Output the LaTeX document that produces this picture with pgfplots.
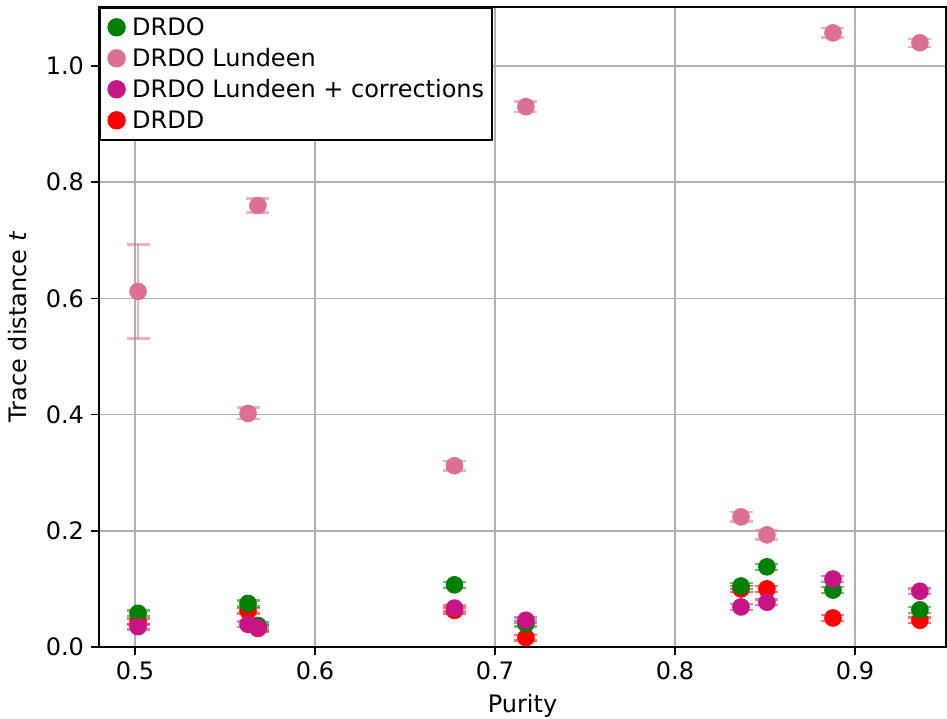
\documentclass[border=0pt]{standalone}
\usepackage{fontspec}
\setmainfont{DejaVu Sans}
\usepackage{pgfplots}
\pgfplotsset{compat=1.18}
\usepackage{pgfplotstable}
\usetikzlibrary{calc}
\definecolor{cgreen}{HTML}{008000}
\definecolor{cpink}{HTML}{DB7093}
\definecolor{cmag}{HTML}{C71585}
\definecolor{cred}{HTML}{FF0000}
\definecolor{cgrid}{HTML}{B0B0B0}

\pgfplotstableread{
x y e
0.5017 0.058 0.005
0.5628 0.075 0.005
0.5683 0.037 0.005
0.6775 0.107 0.005
0.7172 0.040 0.005
0.8367 0.105 0.005
0.8511 0.138 0.005
0.8878 0.098 0.005
0.9361 0.064 0.005
}\drdo
\pgfplotstableread{
x y e
0.5017 0.612 0.081
0.5628 0.402 0.010
0.5683 0.760 0.012
0.6775 0.312 0.008
0.7172 0.930 0.009
0.8367 0.224 0.008
0.8511 0.193 0.008
0.8878 1.057 0.008
0.9361 1.040 0.007
}\lundeen
\pgfplotstableread{
x y e
0.5017 0.035 0.005
0.5628 0.039 0.005
0.5683 0.033 0.005
0.6775 0.067 0.005
0.7172 0.046 0.005
0.8367 0.069 0.005
0.8511 0.077 0.005
0.8878 0.117 0.005
0.9361 0.096 0.005
}\lundeencorr
\pgfplotstableread{
x y e
0.5017 0.044 0.005
0.5628 0.0625 0.005
0.5683 0.032 0.005
0.6775 0.063 0.005
0.7172 0.016 0.005
0.8367 0.100 0.005
0.8511 0.100 0.005
0.8878 0.050 0.005
0.9361 0.046 0.005
}\drdd

\pgfplotsset{
  ser/.style={only marks, mark=*, mark size=4.2pt, color=#1,
    mark options={draw=#1, fill=#1},
    error bars/.cd, y dir=both, y explicit, error mark=|,
    error bar style={line width=1.4pt, color=#1, opacity=0.55},
    error mark options={line width=1.2pt, mark size=5.75pt, color=#1, opacity=0.55},
    /pgfplots/.cd},
}

\begin{document}
\begin{tikzpicture}
\begin{axis}[
  name=ax,
  scale only axis,
  width=423.5pt, height=320pt,
  xmin=0.48, xmax=0.9506, ymin=0, ymax=1.1016,
  xtick={0.5,0.6,0.7,0.8,0.9},
  ytick={0,0.2,0.4,0.6,0.8,1.0},
  grid=major,
  grid style={color=cgrid, line width=0.8pt},
  axis line style={line width=0.8pt},
  tick style={line width=0.8pt, black},
  tick align=outside,
  major tick length=4pt,
  tick pos=left,
  font=\fontsize{12}{14}\selectfont,
  ticklabel style={font=\fontsize{12}{14}\selectfont},
  /pgf/number format/assume math mode=true,
  xticklabel style={/pgf/number format/.cd, fixed, fixed zerofill, precision=1},
  yticklabel style={/pgf/number format/.cd, fixed, fixed zerofill, precision=1},
  xlabel={Purity},
  ylabel={Trace distance \textit{t}},
  every axis x label/.style={at={(axis description cs:0.5,-0.1016)}, anchor=base},
  every axis y label/.style={at={(axis description cs:-0.0850,0.5)}, anchor=base, rotate=90},
  legend cell align=left,
  legend image code/.code={\path (-4.2pt,0pt) (4.2pt,0pt); \draw[#1] plot coordinates {(0pt,0pt)};},
  legend style={at={(0,1)}, anchor=north west, draw=black, line width=0.8pt,
    font=\fontsize{12}{14}\selectfont, inner xsep=3.8pt, inner ysep=5pt,
    row sep=6pt,
    nodes={inner sep=0pt, text height=9pt, text depth=0.5pt},
    /tikz/every odd column/.append style={column sep=3.2pt},
    /tikz/every even column/.append style={column sep=3pt}},
]
\addplot[forget plot, ser=cred] table[x=x, y=y, y error=e]{\drdd};
\addplot[forget plot, ser=cgreen] table[x=x, y=y, y error=e]{\drdo};
\addplot[forget plot, ser=cpink] table[x=x, y=y, y error=e]{\lundeen};
\addplot[forget plot, ser=cmag] table[x=x, y=y, y error=e]{\lundeencorr};
\addlegendimage{only marks, mark=*, mark size=4.2pt, color=cgreen}
\addlegendentry{DRDO}
\addlegendimage{only marks, mark=*, mark size=4.2pt, color=cpink}
\addlegendentry{DRDO Lundeen}
\addlegendimage{only marks, mark=*, mark size=4.2pt, color=cmag}
\addlegendentry{DRDO Lundeen + corrections}
\addlegendimage{only marks, mark=*, mark size=4.2pt, color=cred}
\addlegendentry{DRDD}
\end{axis}
\pgfresetboundingbox
\path[use as bounding box] ($(ax.south west)+(-49.5pt,-35.5pt)$) rectangle ($(ax.north east)+(0.5pt,3.5pt)$);
\end{tikzpicture}
\end{document}
